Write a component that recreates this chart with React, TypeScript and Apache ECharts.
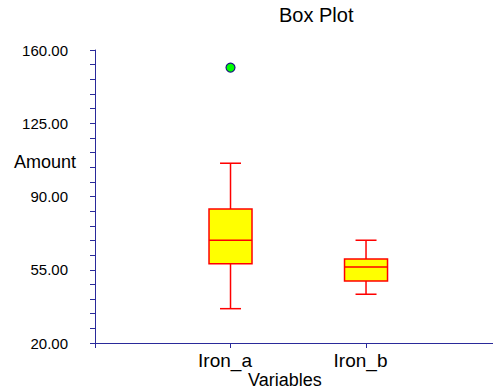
import React, { useEffect, useRef } from "react";
import * as echarts from "echarts";

const categories = ["Iron_a", "Iron_b"];
const catPositions = [1, 2];
const minVals = [36.4, 43.3];
const q1Vals = [57.9, 49.6];
const medianVals = [69.1, 56.3];
const q3Vals = [84.0, 60.1];
const maxVals = [105.9, 69.1];
const outliers: [number, number][] = [[1, 151.6]];
const yTicks = { min: 20, max: 160, interval: 35 };
const xTicks = [0, 1, 2];

export default function App() {
  const ref = useRef<HTMLDivElement>(null);
  useEffect(() => {
    if (!ref.current) return;
    const chart = echarts.init(ref.current, null, { renderer: "svg" });
    const boxData = catPositions.map((x, i) => [x, minVals[i], q1Vals[i], medianVals[i], q3Vals[i], maxVals[i]]);
    const axisColor = "#2a2a9a";
    const boxW = 43;
    const capW = 21;
    chart.setOption({
      animation: false,
      backgroundColor: "#ffffff",
      textStyle: { fontFamily: "Liberation Sans" },
      grid: { left: 95, right: 0, top: 50, bottom: 48, containLabel: false },
      graphic: [
        { type: "text", left: 279, top: 5, style: { text: "Box Plot", fontSize: 20, fill: "#000", fontFamily: "Liberation Sans" } },
        { type: "text", left: 14, top: 153, style: { text: "Amount", fontSize: 18, fill: "#000", fontFamily: "Liberation Sans" } },
        { type: "text", left: 248, top: 371, style: { text: "Variables", fontSize: 18, fill: "#000", fontFamily: "Liberation Sans" } },
      ],
      xAxis: {
        type: "value",
        min: 0,
        max: 2.937,
        interval: 1,
        splitLine: { show: false },
        axisLine: { show: true, onZero: false, lineStyle: { color: axisColor, width: 1 } },
        axisTick: { show: true, length: 5, customValues: xTicks, lineStyle: { color: axisColor } },
        axisLabel: {
          fontSize: 19,
          color: "#000",
          margin: 8,
          customValues: catPositions,
          padding: [0, 11, 0, 0],
          formatter: (v: number) => {
            const idx = catPositions.indexOf(v);
            return idx >= 0 ? categories[idx] : "";
          },
        },
      },
      yAxis: {
        type: "value",
        min: yTicks.min,
        max: yTicks.max,
        interval: yTicks.interval,
        splitLine: { show: false },
        axisLine: { show: true, lineStyle: { color: axisColor, width: 1 } },
        axisTick: { show: true, length: 5, lineStyle: { color: axisColor } },
        minorTick: { show: true, splitNumber: 5, length: 5, lineStyle: { color: axisColor } },
        axisLabel: { fontSize: 15, color: "#000", margin: 27, formatter: (v: number) => v.toFixed(2) },
      },
      series: [
        {
          type: "custom",
          data: boxData,
          encode: { x: 0, y: [1, 2, 3, 4, 5] },
          renderItem: (params: any, api: any) => {
            const x = api.value(0);
            const pMin = api.coord([x, api.value(1)]);
            const pQ1 = api.coord([x, api.value(2)]);
            const pMed = api.coord([x, api.value(3)]);
            const pQ3 = api.coord([x, api.value(4)]);
            const pMax = api.coord([x, api.value(5)]);
            const cx = pMin[0];
            const line = { stroke: "#ff0000", lineWidth: 1.5 };
            return {
              type: "group",
              children: [
                { type: "line", shape: { x1: cx, y1: pMax[1], x2: cx, y2: pQ3[1] }, style: line },
                { type: "line", shape: { x1: cx, y1: pQ1[1], x2: cx, y2: pMin[1] }, style: line },
                { type: "line", shape: { x1: cx - capW / 2, y1: pMax[1], x2: cx + capW / 2, y2: pMax[1] }, style: line },
                { type: "line", shape: { x1: cx - capW / 2, y1: pMin[1], x2: cx + capW / 2, y2: pMin[1] }, style: line },
                { type: "rect", shape: { x: cx - boxW / 2, y: pQ3[1], width: boxW, height: pQ1[1] - pQ3[1] }, style: { fill: "#ffff00", stroke: "#ff0000", lineWidth: 1.5 } },
                { type: "line", shape: { x1: cx - boxW / 2, y1: pMed[1], x2: cx + boxW / 2, y2: pMed[1] }, style: line },
              ],
            };
          },
        },
        {
          type: "scatter",
          data: outliers,
          symbol: "circle",
          symbolSize: 9,
          itemStyle: { color: "#00ff00", borderColor: "#1a1a80", borderWidth: 1.2, opacity: 1 },
        },
      ],
    });
    return () => chart.dispose();
  }, []);
  return <div ref={ref} style={{ width: 493, height: 391, position: "absolute", left: 0, top: 0 }} />;
}
